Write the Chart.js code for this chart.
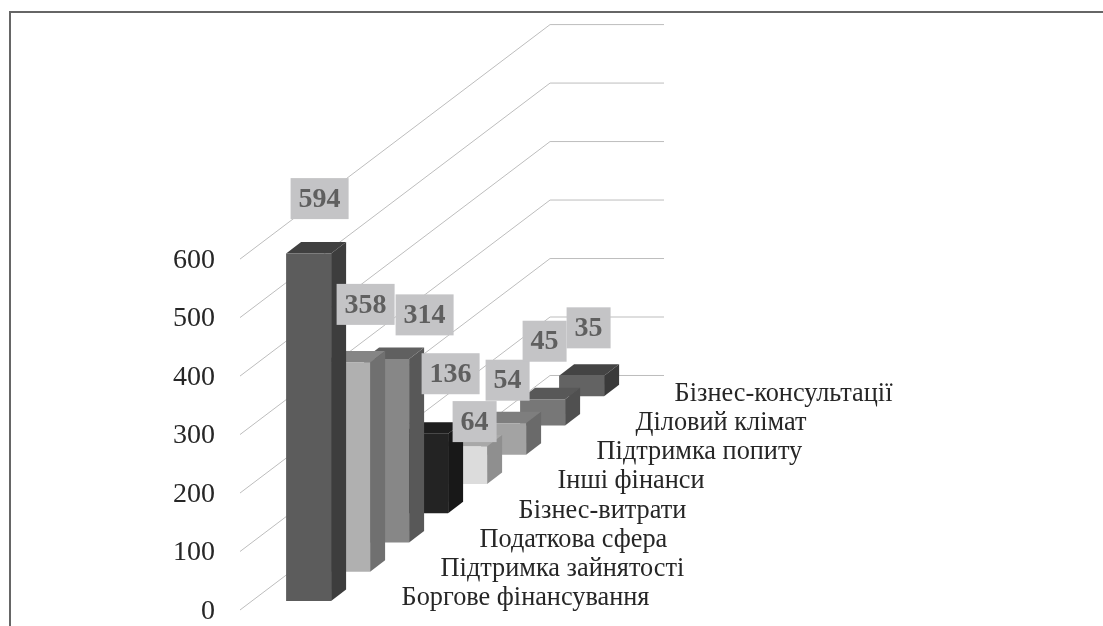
<!DOCTYPE html>
<html>
<head>
<meta charset="utf-8">
<script src="https://cdn.jsdelivr.net/npm/chart.js@4"></script>
<style>
  html, body { margin: 0; padding: 0; background: #fff; overflow: hidden; }
  #frame { position: absolute; left: 9px; top: 11px; right: 0; bottom: 0; border-top: 2px solid #666; border-left: 2px solid #666; }
  #grafico { position: absolute; left: 0; top: 0; }
</style>
</head>
<body>
<div id="frame"></div>
<canvas id="grafico" width="1103" height="626"></canvas>
<script>
const categorias = ['Боргове фінансування', 'Підтримка зайнятості', 'Податкова сфера', 'Бізнес-витрати',
  'Інші фінанси', 'Підтримка попиту', 'Діловий клімат', 'Бізнес-консультації']
const valores = [594, 358, 314, 136, 64, 54, 45, 35]
const ticksY = [0, 100, 200, 300, 400, 500, 600]

const corFrente = ['#5c5c5c', '#b0b0b0', '#878787', '#232323', '#dcdcdc', '#a3a3a3', '#777777', '#636363']
const corLado = ['#3d3d3d', '#707070', '#585858', '#181818', '#8f8f8f', '#6a6a6a', '#505050', '#3a3a3a']
const corTopo = ['#404040', '#858585', '#606060', '#1e1e1e', '#a8a8a8', '#7e7e7e', '#585858', '#444444']

// the labels were moved by hand in the original, so each has its own nudge from its bar top
const rotuloDx = [11, 18, 38, 25, 10, 4, 2, 7]
const rotuloDy = [-55, -58, -44, -60, -25, -43, -58, -48]

// fake 3d: every bar sits further back, in y scale units
const baseInicial = 15.4
const passoFundo = 50
const fundoY = 401
const fundoX = 7.95
const ladoX = 15
const ladoY = 11.5

const serie = valores.map((v, i) => {
  const base = baseInicial + passoFundo * i
  return { x: i, y: [base, base + v] }
})

function poligono(ctx, cor, pontos) {
  ctx.fillStyle = cor
  ctx.beginPath()
  pontos.forEach((p, i) => i ? ctx.lineTo(p[0], p[1]) : ctx.moveTo(p[0], p[1]))
  ctx.closePath()
  ctx.fill()
}

class Barra3d extends Chart.BarController {
  draw() {
    const ctx = this.chart.ctx
    const barras = this.getMeta().data
    // back to front so the nearer bars cover the others
    for (let i = barras.length - 1; i >= 0; i--) {
      const b = barras[i]
      const esq = b.x - b.width / 2
      const dir = b.x + b.width / 2
      poligono(ctx, corTopo[i], [[esq, b.y], [esq + ladoX, b.y - ladoY], [dir + ladoX, b.y - ladoY], [dir, b.y]])
      poligono(ctx, corLado[i], [[dir, b.y], [dir + ladoX, b.y - ladoY], [dir + ladoX, b.base - ladoY], [dir, b.base]])
      poligono(ctx, corFrente[i], [[esq, b.y], [dir, b.y], [dir, b.base], [esq, b.base]])
    }
  }
}
Barra3d.id = 'barra3d'
Barra3d.defaults = Chart.BarController.defaults
Barra3d.overrides = Chart.BarController.overrides
Chart.register(Barra3d)

const grade = {
  id: 'grade',
  beforeDatasetsDraw(chart) {
    const { ctx, scales: { x, y } } = chart
    const canto = x.left + fundoX * 39
    ctx.save()
    ctx.strokeStyle = '#bdbdbd'
    ctx.lineWidth = 1
    ticksY.forEach(t => {
      ctx.beginPath()
      ctx.moveTo(x.left, y.getPixelForValue(t))
      ctx.lineTo(canto, y.getPixelForValue(t + fundoY))
      ctx.lineTo(x.right, y.getPixelForValue(t + fundoY))
      ctx.stroke()
    })
    ctx.restore()
  }
}

const rotulos = {
  id: 'rotulos',
  afterDatasetsDraw(chart) {
    const { ctx } = chart
    const barras = chart.getDatasetMeta(0).data
    ctx.save()
    // category names, left aligned next to the foot of each bar
    ctx.font = '26.3px "Liberation Serif"'
    ctx.fillStyle = '#262626'
    ctx.textAlign = 'left'
    ctx.textBaseline = 'middle'
    categorias.forEach((c, i) => ctx.fillText(c, barras[i].x + 93, barras[i].base - 2.5))
    // value boxes
    ctx.font = 'bold 28px "Liberation Serif"'
    ctx.textAlign = 'center'
    valores.forEach((v, i) => {
      const txt = String(v)
      const larg = txt.length === 3 ? 58 : 44
      const cx = barras[i].x + rotuloDx[i]
      const cy = barras[i].y + rotuloDy[i]
      ctx.fillStyle = '#c4c4c6'
      ctx.fillRect(cx - larg / 2, cy - 20.5, larg, 41)
      ctx.fillStyle = '#5f5f5f'
      ctx.fillText(txt, cx, cy + 1)
    })
    ctx.restore()
  }
}

new Chart(document.getElementById('grafico'), {
  type: 'barra3d',
  data: {
    datasets: [{
      label: 'Кількість',
      data: serie,
      barThickness: 45
    }]
  },
  options: {
    responsive: false,
    animation: false,
    devicePixelRatio: 1,
    layout: { padding: { top: 24, right: 439, left: 0, bottom: 0 } },
    plugins: { legend: { display: false }, tooltip: { enabled: false } },
    scales: {
      x: { type: 'linear', display: false, offset: false, min: -1.759, max: 9.113 },
      y: {
        type: 'linear',
        min: -27.35,
        max: 1002,
        grid: { display: false },
        border: { display: false },
        afterBuildTicks: s => { s.ticks = ticksY.map(value => ({ value })) },
        afterFit: s => { s.width = 240; s.paddingTop = 0; s.paddingBottom = 0 },
        ticks: {
          padding: 17,
          labelOffset: 1.5,
          color: '#262626',
          font: { family: '"Liberation Serif"', size: 28 }
        }
      }
    }
  },
  plugins: [grade, rotulos]
})
</script>
</body>
</html>
